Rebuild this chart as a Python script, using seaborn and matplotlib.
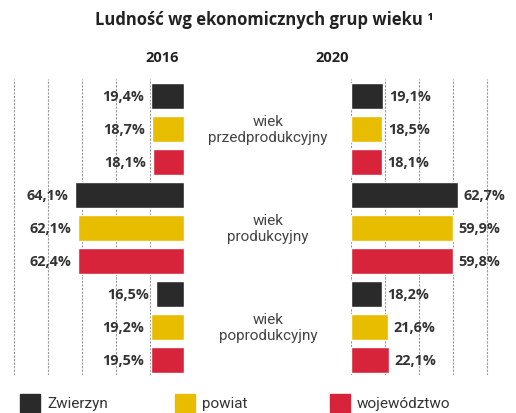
import matplotlib
matplotlib.use("Agg")
import matplotlib.pyplot as plt
from matplotlib.patches import Rectangle
import seaborn as sns
import pandas as pd

groups = ["wiek\nprzedprodukcyjny", "wiek\nprodukcyjny", "wiek\npoprodukcyjny"]
entities = ["Zwierzyn", "powiat", "województwo"]
colors = ["#2a2a2a", "#e8bd00", "#d8243a"]
values_2016 = [[19.4, 18.7, 18.1], [64.1, 62.1, 62.4], [16.5, 19.2, 19.5]]
values_2020 = [[19.1, 18.5, 18.1], [62.7, 59.9, 59.8], [18.2, 21.6, 22.1]]
years = ["2016", "2020"]
title = "Ludność wg ekonomicznych grup wieku ¹"

sns.set_theme(style="white")
plt.rcParams["font.family"] = ["Open Sans", "DejaVu Sans"]

def make_df(vals):
    rows = []
    for gi, g in enumerate(groups):
        for ei, e in enumerate(entities):
            rows.append({"row": f"{gi}-{e}", "entity": e, "value": vals[gi][ei]})
    return pd.DataFrame(rows)

def fmt(v):
    return f"{v:.1f}%".replace(".", ",")

W, H = 516, 414
fig = plt.figure(figsize=(W / 100, H / 100), dpi=100)

top_px, bot_px = 80, 376
ax_l = fig.add_axes([13 / W, (H - bot_px) / H, 171 / W, (bot_px - top_px) / H])
ax_r = fig.add_axes([351 / W, (H - bot_px) / H, (W - 351) / W, (bot_px - top_px) / H])

palette = dict(zip(entities, colors))
for ax, vals, side in [(ax_l, values_2016, "left"), (ax_r, values_2020, "right")]:
    df = make_df(vals)
    sns.barplot(data=df, y="row", x="value", hue="entity", palette=palette,
                orient="h", dodge=False, width=0.79, legend=False, ax=ax,
                saturation=1)
    ax.set_axisbelow(True)
    ax.set_xticks([0, 20, 40, 60, 80, 100])
    ax.grid(axis="x", color="#999999", linestyle=(0, (2, 1.2)), linewidth=0.8)
    ax.grid(axis="y", visible=False)
    ax.tick_params(left=False, bottom=False, labelleft=False, labelbottom=False)
    for s in ax.spines.values():
        s.set_visible(False)
    ax.set_xlabel("")
    ax.set_ylabel("")
    ax.set_ylim(8.45, -0.52)
    for cont in ax.containers:
        for b in cont:
            w = b.get_width()
            if w <= 0:
                continue
            yc = b.get_y() + b.get_height() / 2
            if side == "left":
                ax.annotate(fmt(w), (w, yc), xytext=(-5, 0), textcoords="offset points",
                            ha="right", va="center", fontsize=10.4,
                            fontweight="bold", color="#333333")
            else:
                ax.annotate(fmt(w), (w, yc), xytext=(4, 0), textcoords="offset points",
                            ha="left", va="center", fontsize=10.4,
                            fontweight="bold", color="#333333")

ax_l.set_xlim(100.6, 0)
ax_r.set_xlim(0, 97.1)

# group labels in the middle
for gi, g in enumerate(groups):
    y_px = 97 + (gi * 3 + 1) * 33
    fig.text(268 / W, 1 - y_px / H, g, ha="center", va="center",
             fontsize=11, family="Roboto", color="#444444", linespacing=1.2)

fig.text(264 / W, 1 - 20 / H, title, ha="center", va="center",
         fontsize=12, fontweight="bold", color="#222222")
fig.text(162 / W, 1 - 58 / H, years[0], ha="center", va="center",
         fontsize=10.5, fontweight="bold", color="#222222")
fig.text(332 / W, 1 - 58 / H, years[1], ha="center", va="center",
         fontsize=10.5, fontweight="bold", color="#222222")

# legend
leg_x = [20, 175, 330]
for x, e, c in zip(leg_x, entities, colors):
    fig.add_artist(Rectangle((x / W, (H - 413) / H), 20 / W, 18 / H,
                             transform=fig.transFigure, color=c))
    fig.text((x + 27) / W, 1 - 404 / H, e, ha="left", va="center",
             fontsize=11, family="Roboto", color="#333333")

fig.savefig("out.png", dpi=100)
